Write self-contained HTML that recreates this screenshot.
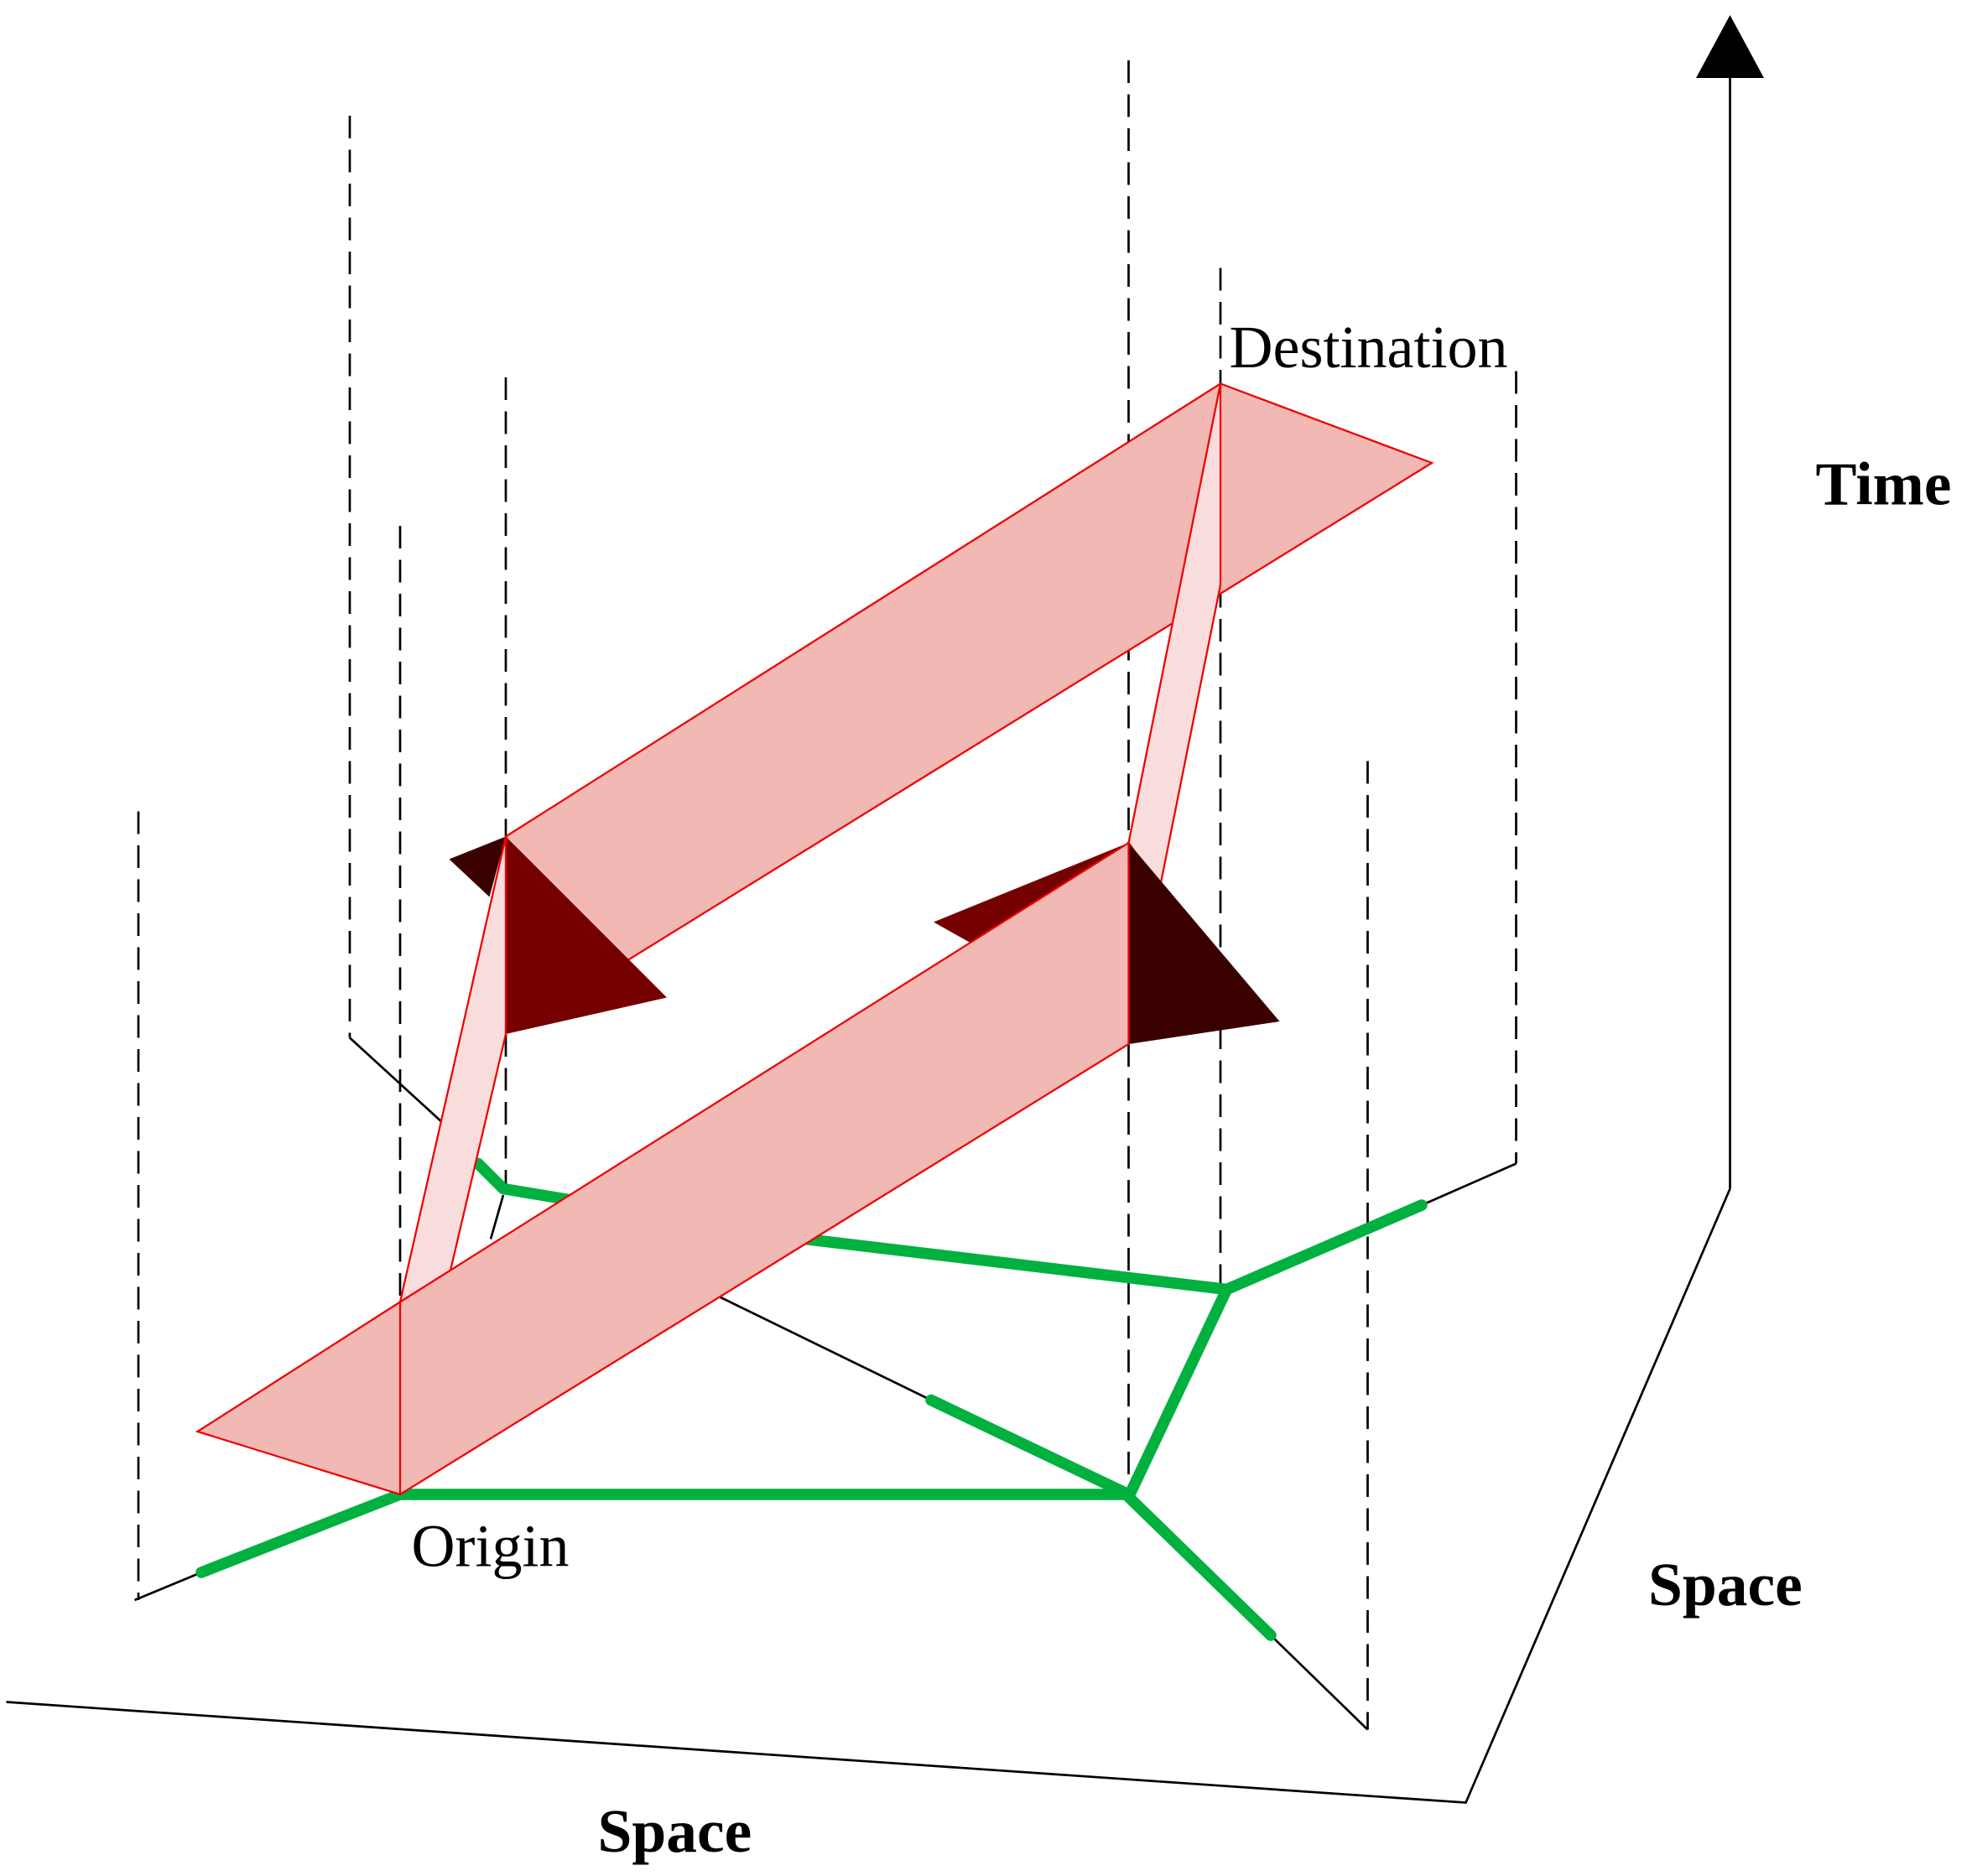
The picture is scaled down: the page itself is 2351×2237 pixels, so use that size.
<!DOCTYPE html>
<html><head><meta charset="utf-8"><style>
html,body{margin:0;padding:0;background:#fff;}
svg{display:block;}
</style></head><body>
<svg width="2351" height="2237" viewBox="0 0 1567.33 1491.33" xmlns="http://www.w3.org/2000/svg">
<g stroke="#000" stroke-width="1.8" stroke-dasharray="18,9" fill="none">
<line x1="110" y1="645" x2="110" y2="1272"/>
<line x1="278" y1="92" x2="278" y2="825"/>
<line x1="318" y1="418" x2="318" y2="1035"/>
<line x1="402" y1="300" x2="402" y2="665"/>
<line x1="402" y1="822" x2="402" y2="945"/>
<line x1="897" y1="48" x2="897" y2="670"/>
<line x1="897" y1="830" x2="897" y2="1190"/>
<line x1="970" y1="213" x2="970" y2="305"/>
<line x1="970" y1="465" x2="970" y2="1025"/>
<line x1="1205" y1="295" x2="1205" y2="925"/>
<line x1="1087" y1="605" x2="1087" y2="1375"/>
</g>
<g stroke="#000" stroke-width="1.8" fill="none">
<line x1="278" y1="825" x2="360" y2="900"/>
<line x1="570" y1="1030" x2="740" y2="1113"/>
<line x1="1010" y1="1300" x2="1087" y2="1375"/>
<line x1="1130" y1="958" x2="1205" y2="925"/>
<line x1="107" y1="1272" x2="160" y2="1250"/>
<line x1="400" y1="950" x2="390" y2="985"/>
<polyline points="1375,945 1375,60"/>
<polyline points="1375,945 1165,1433 5,1353"/>
</g>
<polygon points="1348,62 1402,62 1375,12" fill="#000"/>
<g stroke="#00b140" stroke-width="9" stroke-linecap="round" stroke-linejoin="round" fill="none">
<polyline points="160,1250 318,1188 897,1188"/>
<polyline points="380,925 400,945 460,955"/>
<polyline points="640,985 975,1025 1130,958"/>
<polyline points="975,1025 897,1190 1010,1300"/>
<line x1="740" y1="1113" x2="897" y2="1188"/>
</g>
<polygon points="402,665 970,305 1138,368 480,775 420,700" fill="#f2b8b4" stroke="#e00" stroke-width="1.5"/>
<polygon points="897,670 970,305 970,465 922,705" fill="#f9dcdc" stroke="#e00" stroke-width="1.5"/>
<polygon points="402,665 530,793 402,822" fill="#750000"/>
<polygon points="357,683 402,665 389,713" fill="#3a0000"/>
<polygon points="318,1035 402,665 402,822 358,1010" fill="#f9dcdc" stroke="#e00" stroke-width="1.5"/>
<polygon points="742,733 897,670 897,830 790,760" fill="#750000"/>
<polygon points="897,670 1017,812 897,830" fill="#3a0000"/>
<polygon points="157,1138 318,1035 897,670 897,830 318,1188" fill="#f2b8b4" stroke="#e00" stroke-width="1.5"/>
<line x1="318" y1="1035" x2="318" y2="1188" stroke="#e00" stroke-width="1.5"/>
<g font-family="Liberation Serif, serif" fill="#000">
<text x="977" y="292" font-size="48">Destination</text>
<text x="327" y="1245" font-size="48">Origin</text>
<text x="1443" y="401" font-size="49" font-weight="bold">Time</text>
<text x="1310" y="1276" font-size="49" font-weight="bold">Space</text>
<text x="475" y="1472" font-size="49" font-weight="bold">Space</text>
</g>
</svg>
</body></html>
